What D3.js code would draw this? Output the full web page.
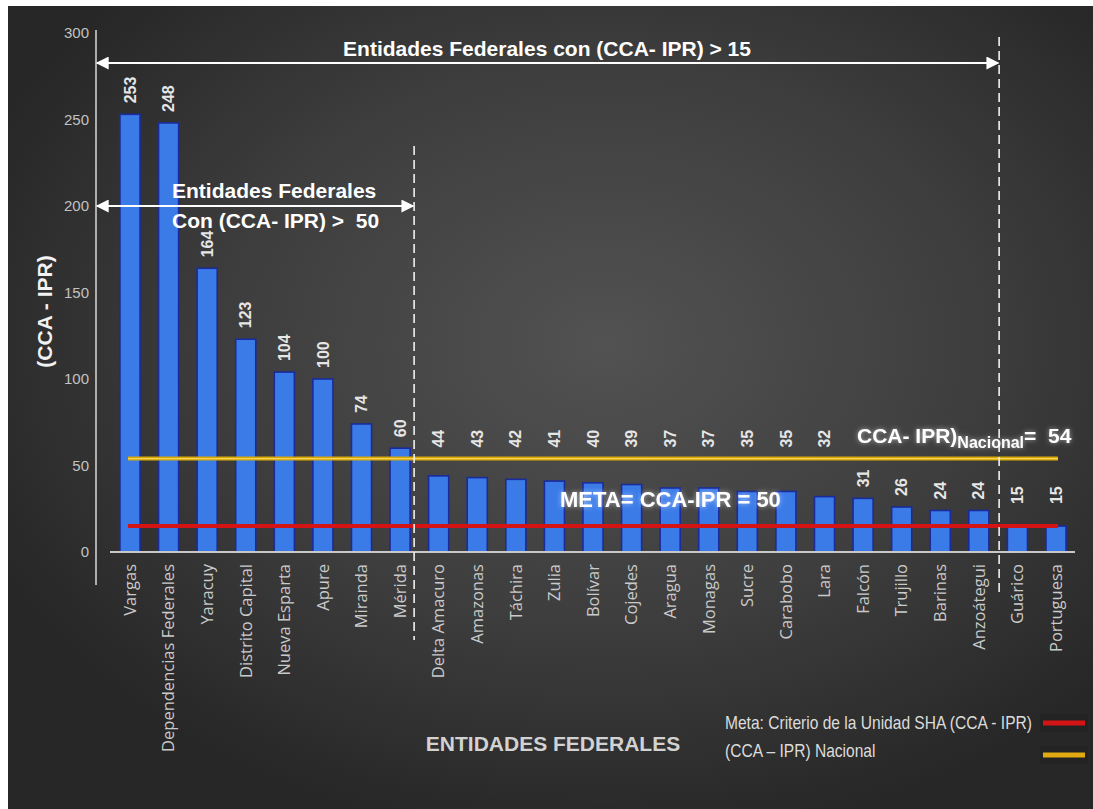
<!DOCTYPE html>
<html>
<head>
<meta charset="utf-8">
<script src="https://cdn.jsdelivr.net/npm/d3@7"></script>
<style>
  html, body { margin: 0; padding: 0; background: #ffffff; }
  svg { display: block; }
</style>
</head>
<body>
<svg id="chart" width="1093" height="809"></svg>
<script>
// ---------- data ----------
const categories = ["Vargas", "Dependencias Federales", "Yaracuy", "Distrito Capital", "Nueva Esparta",
  "Apure", "Miranda", "Mérida", "Delta Amacuro", "Amazonas", "Táchira", "Zulia", "Bolívar",
  "Cojedes", "Aragua", "Monagas", "Sucre", "Carabobo", "Lara", "Falcón", "Trujillo", "Barinas",
  "Anzoátegui", "Guárico", "Portuguesa"];
const values = [253, 248, 164, 123, 104, 100, 74, 60, 44, 43, 42, 41, 40, 39, 37, 37, 35, 35, 32, 31, 26, 24, 24, 15, 15];
const yTicks = [0, 50, 100, 150, 200, 250, 300];
const nationalValue = 54;   // (CCA - IPR) Nacional
const metaValue = 15;       // Meta line
const group50End = "Mérida";      // last entity with (CCA-IPR) > 50
const group15End = "Anzoátegui";  // last entity with (CCA-IPR) > 15
const yTitle = "(CCA - IPR)";
const xTitle = "ENTIDADES FEDERALES";
const topArrowText = "Entidades Federales con (CCA- IPR) > 15";
const midArrowText = ["Entidades Federales", "Con (CCA- IPR) >  50"];
const metaText = "META= CCA-IPR = 50";
const legendItems = ["Meta: Criterio de la Unidad SHA (CCA - IPR)", "(CCA \u2013 IPR) Nacional"];

// ---------- setup ----------
const W = 1093, H = 809;
const svg = d3.select("#chart");
const defs = svg.append("defs");

const bg = defs.append("radialGradient").attr("id", "bg")
  .attr("cx", "55%").attr("cy", "42%").attr("r", "62%");
bg.append("stop").attr("offset", "0%").attr("stop-color", "#525252");
bg.append("stop").attr("offset", "55%").attr("stop-color", "#3e3e3e");
bg.append("stop").attr("offset", "100%").attr("stop-color", "#272727");

const glow = defs.append("filter").attr("id", "glow")
  .attr("x", "-20%").attr("y", "-40%").attr("width", "140%").attr("height", "180%");
glow.append("feGaussianBlur").attr("in", "SourceAlpha").attr("stdDeviation", 2.5).attr("result", "b");
glow.append("feFlood").attr("flood-color", "#ffffff").attr("flood-opacity", 0.55).attr("result", "c");
glow.append("feComposite").attr("in", "c").attr("in2", "b").attr("operator", "in").attr("result", "g");
const gm = glow.append("feMerge");
gm.append("feMergeNode").attr("in", "g");
gm.append("feMergeNode").attr("in", "SourceGraphic");

const arrowHead = (id, orient) => {
  defs.append("marker").attr("id", id)
    .attr("viewBox", "0 0 10 10").attr("refX", 9).attr("refY", 5)
    .attr("markerUnits", "userSpaceOnUse")
    .attr("markerWidth", 15).attr("markerHeight", 13)
    .attr("orient", orient)
    .append("path").attr("d", "M0,0 L10,5 L0,10 Z").attr("fill", "#ffffff");
};
arrowHead("arrEnd", "auto");
arrowHead("arrStart", "auto-start-reverse");

svg.append("rect").attr("x", 8).attr("y", 6).attr("width", W - 8).attr("height", H - 6)
  .attr("fill", "url(#bg)");

const x = d3.scaleBand().domain(categories).range([110.7, 1075.3])
  .paddingInner(0.48).paddingOuter(0.24);
const y = d3.scaleLinear().domain([0, 300]).range([552, 33]);
const cx = c => x(c) + x.bandwidth() / 2;

const sans = "'Liberation Sans', Arial, sans-serif";

// ---------- y axis ----------
const yAxis = svg.append("g").attr("transform", "translate(96,0)")
  .call(d3.axisLeft(y).tickValues(yTicks).tickSize(0).tickPadding(7));
yAxis.select(".domain").remove();
yAxis.selectAll("text").attr("fill", "#c2c2c2").attr("font-size", 15).attr("font-family", sans);
svg.append("line").attr("x1", 96).attr("x2", 96).attr("y1", 30).attr("y2", 585)
  .attr("stroke", "#d9d9d9").attr("stroke-width", 1.5);

svg.append("text").attr("transform", `translate(52,${(y(0) + y(300)) / 2 + 19}) rotate(-90)`)
  .attr("text-anchor", "middle").attr("fill", "#f2f2f2")
  .attr("font-family", sans).attr("font-weight", "bold").attr("font-size", 21)
  .text(yTitle);

// ---------- x axis ----------
const xAxis = svg.append("g").attr("transform", `translate(0,${y(0)})`)
  .call(d3.axisBottom(x).tickSize(0).tickPadding(0));
xAxis.select(".domain").remove();
xAxis.selectAll("text")
  .attr("transform", "rotate(-90)")
  .attr("text-anchor", "end")
  .attr("x", -12).attr("y", 0).attr("dy", "0.35em")
  .attr("fill", "#cacaca").attr("font-size", 16.5).attr("font-family", "'Open Sans', sans-serif");

// ---------- bars ----------
svg.append("g").selectAll("rect").data(values).join("rect")
  .attr("x", (d, i) => x(categories[i]))
  .attr("y", d => y(d))
  .attr("width", x.bandwidth())
  .attr("height", d => y(0) - y(d))
  .attr("fill", "#3b7be8")
  .attr("stroke", "#1a2b9c").attr("stroke-width", 1.6);

svg.append("line").attr("x1", 110).attr("x2", 1075).attr("y1", y(0)).attr("y2", y(0))
  .attr("stroke", "#c8c8c8").attr("stroke-width", 2);

// ---------- reference lines ----------
const lineX0 = cx(categories[0]) - 2, lineX1 = cx(categories[categories.length - 1]) + 2;
svg.append("line").attr("x1", lineX0).attr("x2", lineX1)
  .attr("y1", y(nationalValue)).attr("y2", y(nationalValue))
  .attr("stroke", "#d9a800").attr("stroke-width", 4);
svg.append("line").attr("x1", lineX0).attr("x2", lineX1)
  .attr("y1", y(nationalValue)).attr("y2", y(nationalValue))
  .attr("stroke", "#f3d35a").attr("stroke-width", 1.2);
svg.append("line").attr("x1", lineX0).attr("x2", lineX1)
  .attr("y1", y(metaValue)).attr("y2", y(metaValue))
  .attr("stroke", "#d41414").attr("stroke-width", 4);

// ---------- value labels ----------
svg.append("g").selectAll("text").data(values).join("text")
  .attr("transform", (d, i) => {
    let base = d;
    if (d < nationalValue && d > 31) base = nationalValue; // lifted above national line
    let off = d <= metaValue ? 22 : 11;
    return `translate(${cx(categories[i])},${y(base) - off}) rotate(-90)`;
  })
  .attr("dy", "0.35em")
  .attr("text-anchor", "start")
  .attr("fill", "#e6e6e6").attr("font-family", sans).attr("font-weight", "bold").attr("font-size", 16)
  .text(d => d);

// ---------- group separators ----------
const sep50 = x(group50End) + x.bandwidth() + 4;
const sep15 = (cx(group15End) + cx(categories[categories.indexOf(group15End) + 1])) / 2 + 1;
svg.append("line").attr("x1", sep50).attr("x2", sep50).attr("y1", 146).attr("y2", 640)
  .attr("stroke", "#f0f0f0").attr("stroke-width", 1.6).attr("stroke-dasharray", "9,5");
svg.append("line").attr("x1", sep15).attr("x2", sep15).attr("y1", 37).attr("y2", 596)
  .attr("stroke", "#f0f0f0").attr("stroke-width", 1.6).attr("stroke-dasharray", "9,5");

svg.append("line").attr("x1", 97).attr("x2", sep15 - 1).attr("y1", 63).attr("y2", 63)
  .attr("stroke", "#ffffff").attr("stroke-width", 2)
  .attr("marker-start", "url(#arrStart)").attr("marker-end", "url(#arrEnd)");
svg.append("line").attr("x1", 97).attr("x2", sep50 - 1).attr("y1", 206).attr("y2", 206)
  .attr("stroke", "#ffffff").attr("stroke-width", 2)
  .attr("marker-start", "url(#arrStart)").attr("marker-end", "url(#arrEnd)");

svg.append("text").attr("x", 547).attr("y", 56).attr("text-anchor", "middle")
  .attr("fill", "#ffffff").attr("font-family", sans).attr("font-weight", "bold").attr("font-size", 21)
  .text(topArrowText);
svg.append("text").attr("x", 172).attr("y", 198)
  .attr("fill", "#ffffff").attr("font-family", sans).attr("font-weight", "bold").attr("font-size", 21)
  .text(midArrowText[0]);
svg.append("text").attr("x", 172).attr("y", 228)
  .attr("fill", "#ffffff").attr("font-family", sans).attr("font-weight", "bold").attr("font-size", 21)
  .style("white-space", "pre")
  .text(midArrowText[1]);

// ---------- annotations with glow ----------
const nat = svg.append("text").attr("x", 857).attr("y", 443)
  .attr("fill", "#ffffff").attr("font-family", sans).attr("font-weight", "bold").attr("font-size", 21)
  .attr("filter", "url(#glow)").style("white-space", "pre");
nat.append("tspan").text("CCA- IPR)");
nat.append("tspan").attr("font-size", 16).attr("dy", 5).text("Nacional");
nat.append("tspan").attr("dy", -5).text("=  " + nationalValue);

svg.append("text").attr("x", 560).attr("y", 507)
  .attr("fill", "#ffffff").attr("font-family", sans).attr("font-weight", "bold").attr("font-size", 22)
  .attr("filter", "url(#glow)")
  .text(metaText);

// ---------- axis title ----------
svg.append("text").attr("x", 553).attr("y", 751).attr("text-anchor", "middle")
  .attr("fill", "#d2d2d2").attr("font-family", sans).attr("font-weight", "bold").attr("font-size", 21)
  .text(xTitle);

// ---------- legend ----------
const legColors = ["#d41414", "#e0aa10"];
legendItems.forEach((t, i) => {
  svg.append("text")
    .attr("transform", `translate(725,${729 + i * 28}) scale(0.89,1)`)
    .attr("fill", "#dcdcdc").attr("font-family", sans).attr("font-size", 17.5)
    .text(t);
  svg.append("rect").attr("x", 1040).attr("y", 714 + i * 32).attr("width", 48).attr("height", 18)
    .attr("fill", "#222222").attr("opacity", 0.6);
  svg.append("line").attr("x1", 1043).attr("x2", 1085).attr("y1", 723 + i * 32).attr("y2", 723 + i * 32)
    .attr("stroke", legColors[i]).attr("stroke-width", 5);
});
</script>
</body>
</html>
